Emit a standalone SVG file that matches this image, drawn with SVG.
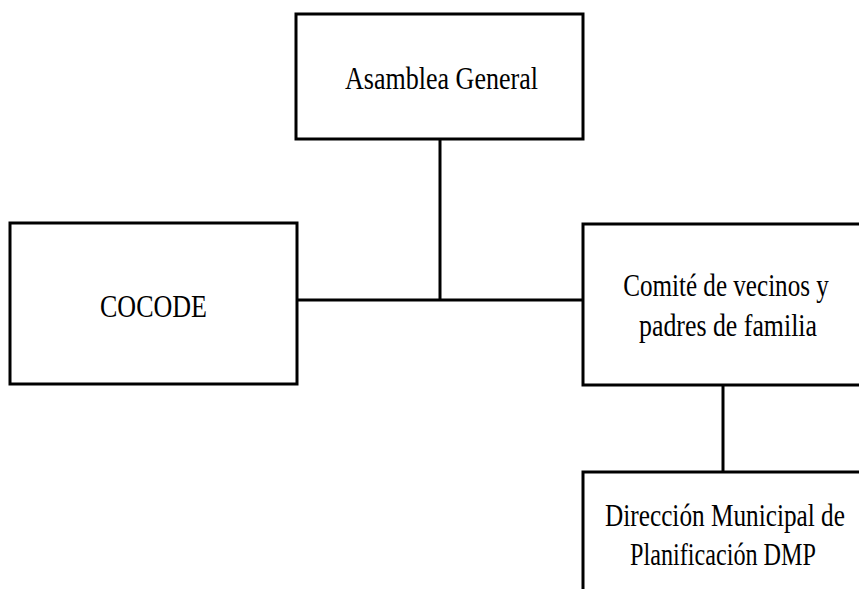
<svg xmlns="http://www.w3.org/2000/svg" width="859" height="589" viewBox="0 0 859 589">
<style>
.box{fill:#fff;stroke:#000;stroke-width:3}
.lbl{font-family:"Liberation Serif","Times New Roman",serif;font-size:31px;fill:#000;text-anchor:middle}
.conn{stroke:#000;stroke-width:3;fill:none}
</style>
<rect width="859" height="589" fill="#fff"/>
<g id="connectors">
<line class="conn" x1="440" y1="139" x2="440" y2="300"/>
<line class="conn" x1="297" y1="300" x2="583" y2="300"/>
<line class="conn" x1="723" y1="385" x2="723" y2="472"/>
</g>
<g id="asamblea">
<rect class="box" x="296" y="14" width="287" height="125"/>
<text class="lbl" transform="translate(441.5,89) scale(0.84,1)">Asamblea General</text>
</g>
<g id="cocode">
<rect class="box" x="10" y="223" width="287" height="161"/>
<text class="lbl" transform="translate(153.5,317) scale(0.84,1)">COCODE</text>
</g>
<g id="comite">
<path class="box" d="M859,224 H583 V385 H859"/>
<text class="lbl" transform="translate(726,296) scale(0.81,1)">Comité de vecinos y</text>
<text class="lbl" transform="translate(728,336) scale(0.834,1)">padres de familia</text>
</g>
<g id="dmp">
<path class="box" d="M859,472 H583 V589"/>
<text class="lbl" transform="translate(725,526) scale(0.815,1)">Dirección Municipal de</text>
<text class="lbl" transform="translate(723,565) scale(0.78,1)">Planificación DMP</text>
</g>
</svg>
